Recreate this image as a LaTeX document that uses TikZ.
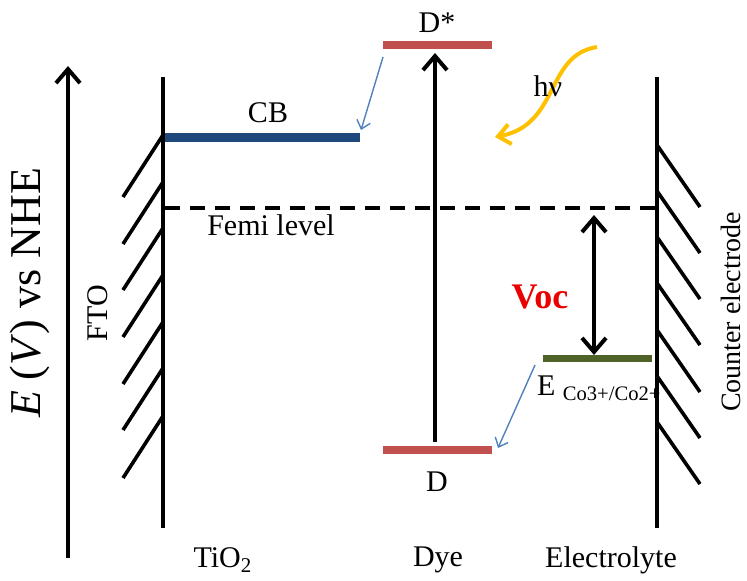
\documentclass[tikz,border=0pt]{standalone}
\usepackage{fontspec}
\setmainfont{Liberation Serif}
\definecolor{dyered}{RGB}{192,80,77}
\definecolor{cbblue}{RGB}{31,73,125}
\definecolor{redoxgreen}{RGB}{79,98,40}
\definecolor{transferblue}{RGB}{79,129,189}
\definecolor{lightyellow}{RGB}{255,192,0}
\definecolor{vocred}{RGB}{235,0,0}
\usetikzlibrary{arrows.meta,positioning}

\begin{document}
\begin{tikzpicture}[x=0.5pt, y=-0.5pt, font=\fontsize{15}{18}\selectfont,
    bigbarb/.style={-{Straight Barb[length=7pt,width=12pt]}},
    thinbarb/.style={-{Straight Barb[length=4pt,width=7pt]}},
    electrode/.style={line width=2pt},
    hatch/.style={line width=1.8pt}]
  \useasboundingbox (0,0) rectangle (747,580);

  % energy axis
  \coordinate (axisbot) at (68,558);
  \coordinate (axistop) at (68,66);
  \draw[line width=2pt, bigbarb] (axisbot) -- (axistop);
  \node[rotate=90, font=\fontsize{22}{26}\selectfont] (axislabel) at (30,293)
    {\textit{E} (\textit{V}) vs NHE};

  % electrodes
  \coordinate (ftotop) at (163,77);
  \coordinate (ftobot) at (163,528);
  \draw[electrode] (ftotop) -- (ftobot);
  \foreach \y in {135,182,228,275,322,368,416}
    \draw[hatch] (163,\y) -- (123,{\y+62});
  \node[rotate=90] (fto) at (98,313) {FTO};

  \coordinate (cetop) at (657,77);
  \coordinate (cebot) at (657,528);
  \draw[electrode] (cetop) -- (cebot);
  \foreach \y in {145,191,237,283,330,376,422}
    \draw[hatch] (657,\y) -- (700,{\y+62});
  \node[rotate=90, inner sep=0pt, font=\fontsize{14}{17}\selectfont] (counter) at (731,312) {Counter electrode};

  % energy levels
  \coordinate (cbL) at (165,137);
  \coordinate (cbR) at (360,137);
  \draw[cbblue, line width=4.5pt] (cbL) -- (cbR);
  \node (cb) at (268,113) {CB};

  \coordinate (fermiL) at (165,208);
  \coordinate (fermiR) at (655,208);
  \draw[line width=2pt, dash pattern=on 7.5pt off 5pt] (fermiL) -- (fermiR);
  \node (fermi) at (271,225) {Femi level};

  \coordinate (dstarL) at (383,45);
  \coordinate (dstarR) at (492,45);
  \draw[dyered, line width=4pt] (dstarL) -- (dstarR);
  \node (dstar) at (437,23) {D*};

  \coordinate (dL) at (383,450);
  \coordinate (dR) at (492,450);
  \draw[dyered, line width=4pt] (dL) -- (dR);
  \node (d) at (437,482) {D};

  \coordinate (redoxL) at (543,358);
  \coordinate (redoxR) at (652,358);
  \draw[redoxgreen, line width=3.5pt] (redoxL) -- (redoxR);
  \node[anchor=base west] (redox) at (530,395)
    {E {\fontsize{10.3}{12}\selectfont\raisebox{-2.5pt}{Co3+/Co2+}}};

  % excitation and transfers
  \coordinate (excbot) at (435,442);
  \coordinate (exctop) at (435,53);
  \draw[line width=2pt, bigbarb] (excbot) -- (exctop);

  \coordinate (injfrom) at (383,57);
  \coordinate (injto) at (361,130);
  \draw[transferblue, line width=0.7pt, thinbarb] (injfrom) -- (injto);

  \coordinate (regfrom) at (535,365);
  \coordinate (regto) at (498,448);
  \draw[transferblue, line width=0.7pt, thinbarb] (regfrom) -- (regto);

  \coordinate (lightfrom) at (597,47);
  \coordinate (lightto) at (495,137);
  \draw[lightyellow, line width=2pt, -{Straight Barb[length=6pt,width=10pt]}]
    (lightfrom) .. controls (545,55) and (560,125) .. (lightto);
  \node (hv) at (548,86) {hν};

  % open-circuit voltage
  \coordinate (vocT) at (594,215);
  \coordinate (vocB) at (594,355);
  \draw[line width=2pt, {Straight Barb[length=7pt,width=12pt]}-{Straight Barb[length=7pt,width=12pt]}] (vocT) -- (vocB);
  \node[text=vocred, font=\bfseries\fontsize{18}{21}\selectfont] (voc) at (540,297) {Voc};

  % layers
  \node (tio2) at (223,560) {TiO\textsubscript{2}};
  \node (dye) at (438,560) {Dye};
  \node (electrolyte) at (611,560) {Electrolyte};
\end{tikzpicture}
\end{document}
